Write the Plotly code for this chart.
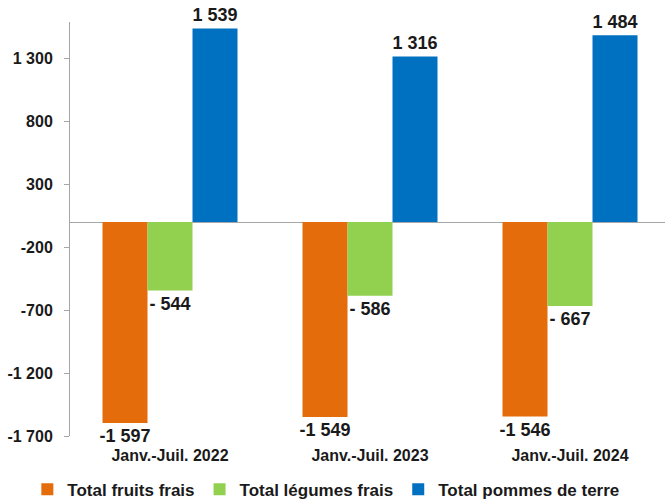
import plotly.graph_objects as go

categories = ["Janv.-Juil. 2022", "Janv.-Juil. 2023", "Janv.-Juil. 2024"]
fruits = [-1597, -1549, -1546]
legumes = [-544, -586, -667]
pommes = [1539, 1316, 1484]
series_names = ["Total fruits frais", "Total légumes frais", "Total pommes de terre"]
colors = ["#E46C0A", "#92D050", "#0070C0"]
tick_vals = [1300, 800, 300, -200, -700, -1200, -1700]
tick_text = ["1 300", "800", "300", "-200", "-700", "-1 200", "-1 700"]


def fmt(v):
    a = abs(v)
    s = f"{a:,}".replace(",", " ")
    if a < 1000:
        s = " " + s
    return ("-" if v < 0 else "") + s


FONT = "Liberation Sans, Arial, sans-serif"
TXT = "#1a1a1a"

fig = go.Figure()
for name, vals, col in zip(series_names, [fruits, legumes, pommes], colors):
    fig.add_trace(go.Bar(
        x=categories, y=vals, name=name, marker=dict(color=col, line=dict(width=0)),
        text=[fmt(v) for v in vals], textposition="outside", cliponaxis=False,
        constraintext="none",
        textfont=dict(family=FONT, size=18, color=TXT, weight="bold"),
    ))

fig.update_layout(
    width=665, height=499,
    margin=dict(l=70, r=0, t=22, b=62.5, autoexpand=False),
    paper_bgcolor="white", plot_bgcolor="white",
    barmode="group", bargap=0.325, bargroupgap=0,
    font=dict(family=FONT, color=TXT),
    showlegend=True,
    legend=dict(orientation="h", x=0.43, xanchor="center",
                y=-0.13, yanchor="middle",
                font=dict(family=FONT, size=17, color=TXT, weight="bold"),
                itemwidth=30, traceorder="normal"),
)
fig.update_xaxes(range=[-0.5, 2.475], showline=False, showgrid=False, zeroline=False,
                 ticks="", ticklabelstandoff=8, automargin=False,
                 tickfont=dict(family=FONT, size=16, color=TXT, weight="bold"))
fig.update_yaxes(range=[-1700, 1590], tickvals=tick_vals, ticktext=tick_text,
                 showline=True, linecolor="#A6A6A6", linewidth=1, automargin=False,
                 ticks="outside", ticklen=5, tickcolor="#A6A6A6", ticklabelstandoff=8,
                 showgrid=False, zeroline=True, zerolinecolor="#A6A6A6", zerolinewidth=1,
                 tickfont=dict(family=FONT, size=16, color=TXT, weight="bold"))

fig.write_html("out.html")
